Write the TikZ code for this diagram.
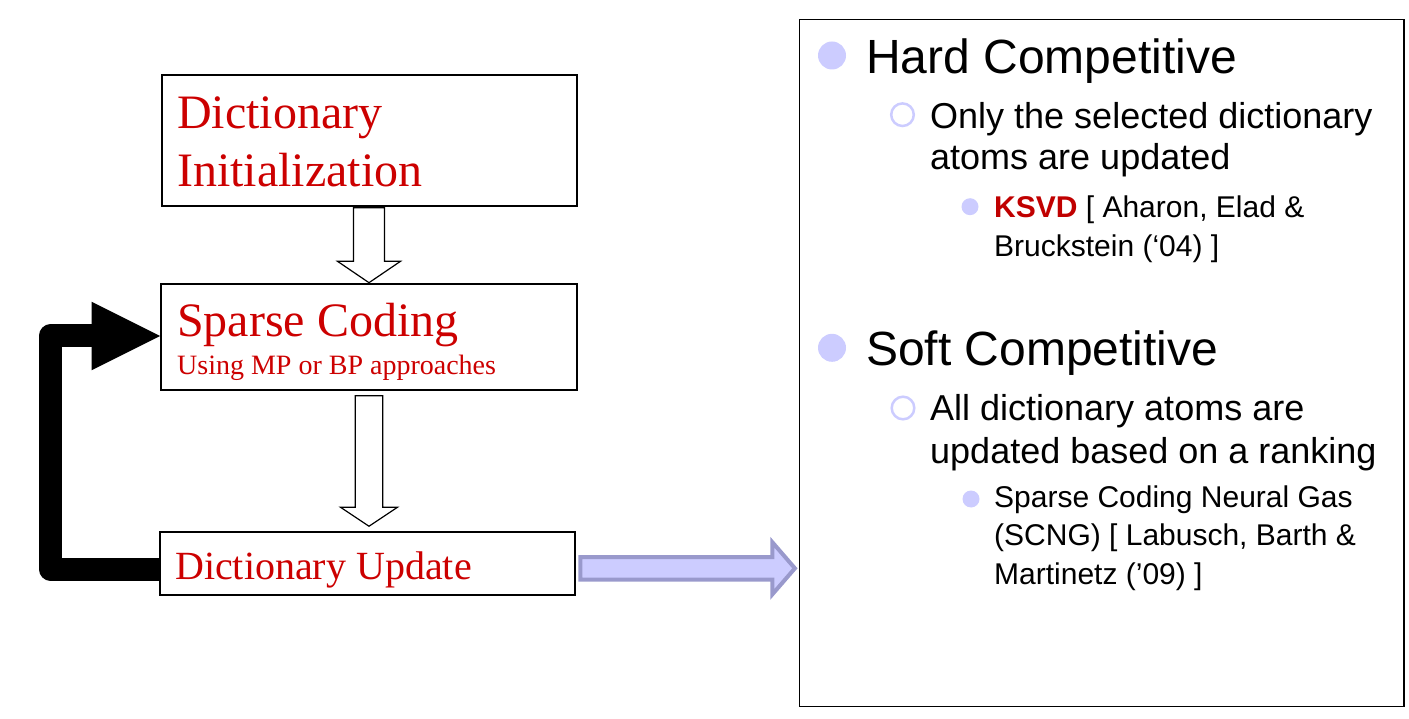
\documentclass[tikz,border=0pt]{standalone}
\usepackage{fontspec}
\setmainfont{Liberation Sans}
\newfontfamily\seriffont{Liberation Serif}
\usepackage{xcolor}
\usetikzlibrary{calc}

\definecolor{boxred}{RGB}{204,0,0}
\definecolor{ksvdred}{RGB}{192,0,0}
\definecolor{lavender}{RGB}{204,204,255}
\definecolor{lavenderedge}{RGB}{153,153,204}

\begin{document}
\begin{tikzpicture}[x=1pt, y=-1pt,
        stepbox/.style={draw, line width=2pt, inner sep=0pt},
        boxtext/.style={anchor=base west, inner sep=0pt, text=boxred, align=left},
        hollowarrow/.style={draw, fill=white, line width=1.2pt, line join=miter},
        loopline/.style={line width=23pt, line join=round},
        bluearrow/.style={draw=lavenderedge, fill=lavender, line width=4pt, line join=miter},
        itemtext/.style={anchor=base west, inner sep=0pt, align=left}]
        \useasboundingbox (0,0) rectangle (1409,719);

        % Draw the boxes of the loop
        \node[stepbox, minimum width=415.6pt, minimum height=130.7pt] (init) at (369.5,140.4) {};
        \node[stepbox, minimum width=416pt, minimum height=106.6pt] (sparse) at (369,337) {};
        \node[stepbox, minimum width=415pt, minimum height=62.7pt] (update) at (367.5,563.6) {};
        \node[draw, line width=1.3pt, inner sep=0pt, minimum width=604.7pt, minimum height=687pt] (panel) at (1101.7,362.8) {};

        % Box texts (a node with several lines sits on its last line)
        \node[boxtext, font=\seriffont\fontsize{48}{58.4}\selectfont] (initText) at (177,186.7) {Dictionary\\Initialization};
        \node[boxtext, font=\seriffont\fontsize{48}{58}\selectfont] (sparseTitle) at (177,336.7) {Sparse Coding};
        \node[boxtext, font=\seriffont\fontsize{28}{34}\selectfont] (sparseSub) at (177,374.3) {Using MP or BP approaches};
        \node[boxtext, font=\seriffont\fontsize{40}{48}\selectfont] (updateText) at (175,579) {Dictionary Update};

        % Hollow arrows between the boxes
        \draw[hollowarrow] ($(sparse.north |- init.south)+(-15.5,1)$) -- ($(sparse.north)+(-15.5,-21.4)$) -- ($(sparse.north)+(-31.5,-21.4)$) -- (sparse.north) -- ($(sparse.north)+(31.5,-21.4)$) -- ($(sparse.north)+(15.5,-21.4)$) -- ($(sparse.north |- init.south)+(15.5,1)$) -- cycle;
        \draw[hollowarrow] ($(sparse.south)+(-13.75,4.4)$) -- ($(sparse.south |- update.north)+(-13.75,-24)$) -- ($(sparse.south |- update.north)+(-28.5,-24)$) -- ($(sparse.south |- update.north)+(0,-5)$) -- ($(sparse.south |- update.north)+(28.5,-24)$) -- ($(sparse.south |- update.north)+(13.75,-24)$) -- ($(sparse.south)+(13.75,4.4)$) -- cycle;

        % Thick black arrow back to sparse coding
        \draw[loopline] ($(update.west)+(0,5.4)$) -| ($(sparse.west)+(-109.5,-1)$) -- ($(sparse.west)+(-68,-1)$);
        \fill ($(sparse.west)+(0,-1)$) -- ++(-68.5,-34.3) -- ++(0,68.6) -- cycle;

        % Blue arrow to the panel
        \coordinate (blueStart) at ($(update.east)+(4.3,4.7)$);
        \coordinate (blueTip) at ($(panel.west |- blueStart)+(-3.8,0)$);
        \draw[bluearrow] ($(blueStart)+(0,-11.3)$) -- ($(blueTip)+(-22.5,-11.3)$) -- ($(blueTip)+(-22.5,-26)$) -- (blueTip) -- ($(blueTip)+(-22.5,26)$) -- ($(blueTip)+(-22.5,11.3)$) -- ($(blueStart)+(0,11.3)$) -- cycle;

        % Bullets
        \fill[lavender] (832,55.5) circle (14pt);
        \draw[lavender, line width=2.5pt] (902.5,114.7) circle (11.3pt);
        \fill[lavender] (970,206.7) circle (8.5pt);
        \fill[lavender] (832,347.8) circle (14pt);
        \draw[lavender, line width=2.5pt] (903,408) circle (11.3pt);
        \fill[lavender] (971,499) circle (8.5pt);

        % Panel texts
        \node[itemtext, font=\fontsize{48}{56}\selectfont] (hard) at (866,73.3) {Hard Competitive};
        \node[itemtext, font=\fontsize{36}{41.7}\selectfont] (hardA) at (930,170) {Only the selected dictionary\\atoms are updated};
        \node[itemtext, font=\fontsize{30}{39.4}\selectfont] (hardB) at (994,256.7) {\textcolor{ksvdred}{\bfseries KSVD} [ Aharon, Elad \&\\Bruckstein (‘04) ]};
        \node[itemtext, font=\fontsize{48}{56}\selectfont] (soft) at (866,366) {Soft Competitive};
        \node[itemtext, font=\fontsize{36}{43}\selectfont] (softA) at (930,463.3) {All dictionary atoms are\\updated based on a ranking};
        \node[itemtext, font=\fontsize{30}{38.2}\selectfont] (softB) at (994,584) {Sparse Coding Neural Gas\\(SCNG) [ Labusch, Barth \&\\Martinetz (’09) ]};
    \end{tikzpicture}
\end{document}
